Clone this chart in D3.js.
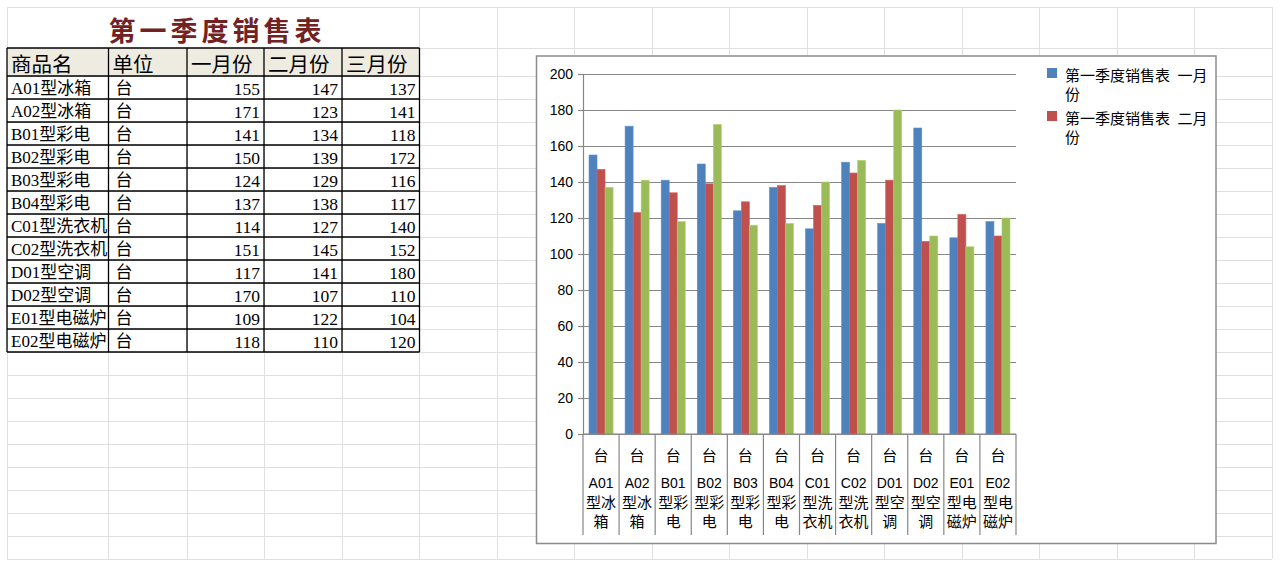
<!DOCTYPE html>
<html><head><meta charset="utf-8">
<script src="https://cdn.jsdelivr.net/npm/d3@7/dist/d3.min.js"></script>
<style>body{margin:0;background:#fff;overflow:hidden}</style>
</head><body>
<script>
// ---------- data ----------
const sheetTitle = "第一季度销售表";
const headers = ["商品名", "单位", "一月份", "二月份", "三月份"];
const products = ["A01型冰箱", "A02型冰箱", "B01型彩电", "B02型彩电", "B03型彩电", "B04型彩电",
  "C01型洗衣机", "C02型洗衣机", "D01型空调", "D02型空调", "E01型电磁炉", "E02型电磁炉"];
const units = ["台", "台", "台", "台", "台", "台", "台", "台", "台", "台", "台", "台"];
const jan = [155, 171, 141, 150, 124, 137, 114, 151, 117, 170, 109, 118];
const feb = [147, 123, 134, 139, 129, 138, 127, 145, 141, 107, 122, 110];
const mar = [137, 141, 118, 172, 116, 117, 140, 152, 180, 110, 104, 120];
const seriesNames = ["第一季度销售表 一月份", "第一季度销售表 二月份", "第一季度销售表 三月份"];
const yTicks = [0, 20, 40, 60, 80, 100, 120, 140, 160, 180, 200];

const seriesValues = [jan, feb, mar];
const seriesColors = ["#4f81bd", "#c0504d", "#9bbb59"];

const W = 1280, H = 567;
const svg = d3.select("body").append("svg").attr("width", W).attr("height", H)
  .style("font-family", "'Noto Sans CJK SC', sans-serif");
svg.append("rect").attr("width", W).attr("height", H).attr("fill", "#fff");

// ---------- spreadsheet grid ----------
const colX = [7, 108.5, 187, 264, 342, 419.5];
while (colX[colX.length - 1] < 1270) colX.push(colX[colX.length - 1] + 77.5);
const rowY = [7, 48];
for (let k = 0; k <= 21; k++) rowY.push(76 + 23 * k);
const grid = svg.append("g").attr("stroke", "#e0e0e0").attr("stroke-width", 1).attr("shape-rendering", "crispEdges");
rowY.forEach(y => grid.append("line").attr("x1", colX[0]).attr("x2", colX[colX.length - 1]).attr("y1", y).attr("y2", y));
colX.forEach((x, ci) => {
  // title row is merged across the first five columns
  const top = (ci > 0 && ci < 5) ? rowY[1] : rowY[0];
  grid.append("line").attr("x1", x).attr("x2", x).attr("y1", top).attr("y2", rowY[rowY.length - 1]);
});

// ---------- title ----------
svg.append("text").text(sheetTitle)
  .attr("x", 217).attr("y", 29).attr("text-anchor", "middle").attr("dominant-baseline", "central")
  .attr("font-size", 27).attr("font-weight", "bold").attr("letter-spacing", 4)
  .attr("fill", "#722222");

// ---------- table ----------
const tCols = colX.slice(0, 6);
const tRows = [48, 76];
for (let i = 0; i < products.length; i++) tRows.push(76 + 23 * (i + 1));
const tbl = svg.append("g");
// header background
tbl.append("rect").attr("x", tCols[0]).attr("y", tRows[0]).attr("width", tCols[5] - tCols[0])
  .attr("height", tRows[1] - tRows[0]).attr("fill", "#eeece1");
headers.forEach((h, i) => {
  tbl.append("text").text(h).attr("x", tCols[i] + 4).attr("y", (tRows[0] + tRows[1]) / 2 + 1)
    .attr("dominant-baseline", "central").attr("font-size", 20.5).attr("fill", "#000");
});
const cellFont = "'Liberation Serif', 'Noto Sans CJK SC', serif";
products.forEach((p, i) => {
  const cy = (tRows[i + 1] + tRows[i + 2]) / 2 + 1;
  tbl.append("text").text(p).attr("x", tCols[0] + 4).attr("y", cy).attr("dominant-baseline", "central")
    .attr("font-size", 17).attr("font-family", cellFont);
  tbl.append("text").text(units[i]).attr("x", tCols[1] + 7).attr("y", cy).attr("dominant-baseline", "central")
    .attr("font-size", 17).attr("font-family", cellFont);
  seriesValues.forEach((vals, s) => {
    tbl.append("text").text(vals[i]).attr("x", tCols[s + 3] - 4).attr("y", cy)
      .attr("text-anchor", "end").attr("dominant-baseline", "central")
      .attr("font-size", 17.5).attr("font-family", cellFont);
  });
});
const border = tbl.append("g").attr("stroke", "#000").attr("stroke-width", 1.3);
tRows.forEach(y => border.append("line").attr("x1", tCols[0]).attr("x2", tCols[5]).attr("y1", y).attr("y2", y));
tCols.forEach(x => border.append("line").attr("x1", x).attr("x2", x).attr("y1", tRows[0]).attr("y2", tRows[tRows.length - 1]));

// ---------- chart ----------
const box = { x: 536.5, y: 56, w: 679.5, h: 487.5 };
svg.append("rect").attr("x", box.x).attr("y", box.y).attr("width", box.w).attr("height", box.h)
  .attr("fill", "#fff").attr("stroke", "#8c8c8c").attr("stroke-width", 1.5);

const plot = { left: 583, right: 1016, top: 74, bottom: 434 };
const x = d3.scaleBand().domain(d3.range(products.length)).range([plot.left, plot.right]).padding(0);
const xs = d3.scaleBand().domain(d3.range(3)).range([0, x.bandwidth()]).paddingInner(0).paddingOuter(0.75);
const y = d3.scaleLinear().domain([0, 200]).range([plot.bottom, plot.top]);

const axisColor = "#868686";
// gridlines
const gGrid = svg.append("g").attr("transform", `translate(${plot.left},0)`)
  .call(d3.axisLeft(y).tickValues(yTicks).tickSize(-(plot.right - plot.left)).tickFormat(""));
gGrid.select(".domain").remove();
gGrid.selectAll(".tick line").attr("stroke", axisColor).attr("stroke-width", 1.2);

// bars
const barG = svg.append("g");
seriesValues.forEach((vals, s) => {
  barG.selectAll(null).data(vals).join("rect")
    .attr("x", (d, i) => x(i) + xs(s))
    .attr("y", d => y(d))
    .attr("width", xs.bandwidth())
    .attr("height", d => y(0) - y(d))
    .attr("fill", seriesColors[s])
    .attr("stroke", d3.color(seriesColors[s]).brighter(0.35))
    .attr("stroke-width", 0.6);
});

// y axis
const gY = svg.append("g").attr("transform", `translate(${plot.left},0)`)
  .call(d3.axisLeft(y).tickValues(yTicks).tickSize(5).tickSizeOuter(0).tickPadding(5));
gY.select(".domain").attr("stroke", axisColor).attr("stroke-width", 1.2);
gY.selectAll(".tick line").attr("stroke", axisColor).attr("stroke-width", 1.2);
gY.selectAll(".tick text").attr("font-size", 14).attr("fill", "#000")
  .attr("font-family", "'Liberation Sans', Arial, sans-serif");

// x axis
const gX = svg.append("g");
gX.append("line").attr("x1", plot.left).attr("x2", plot.right).attr("y1", plot.bottom).attr("y2", plot.bottom)
  .attr("stroke", axisColor).attr("stroke-width", 1.2);
d3.range(products.length + 1).forEach(i => {
  const xx = i < products.length ? x(i) : plot.right;
  gX.append("line").attr("x1", xx).attr("x2", xx).attr("y1", plot.bottom).attr("y2", 535)
    .attr("stroke", axisColor).attr("stroke-width", 1.2);
});
function splitLabel(s) {
  const m = s.match(/^([A-Za-z0-9]+)(.*)$/);
  const lines = [m[1]];
  const rest = Array.from(m[2]);
  for (let k = 0; k < rest.length; k += 2) lines.push(rest.slice(k, k + 2).join(""));
  return lines;
}
products.forEach((p, i) => {
  const cx = x(i) + x.bandwidth() / 2;
  gX.append("text").text(units[i]).attr("x", cx).attr("y", 454).attr("text-anchor", "middle")
    .attr("dominant-baseline", "central").attr("font-size", 15).attr("fill", "#000");
  splitLabel(p).forEach((ln, k) => {
    const isCode = k === 0;
    gX.append("text").text(ln).attr("x", cx).attr("y", 483 + 18.5 * k).attr("text-anchor", "middle")
      .attr("dominant-baseline", "central")
      .attr("font-size", isCode ? 14 : 15)
      .attr("font-family", isCode ? "'Liberation Sans', Arial, sans-serif" : "'Noto Sans CJK SC', sans-serif")
      .attr("fill", "#000");
  });
});

// legend (only the entries that fit in the legend area are shown)
const legend = { x: 1047, y: 64, maxH: 90, entryH: 43, textMax: 152 };
const lg = svg.append("g");
seriesNames.forEach((name, s) => {
  const top = legend.y + s * legend.entryH;
  if (top + legend.entryH > legend.y + legend.maxH) return;
  lg.append("rect").attr("x", legend.x).attr("y", top + 4).attr("width", 10).attr("height", 10)
    .attr("fill", seriesColors[s]);
  const chars = Array.from(name);
  const lines = [];
  let cur = "";
  const probe = lg.append("text").attr("font-size", 15);
  chars.forEach(c => {
    probe.text(cur + c);
    if (probe.node().getComputedTextLength() > legend.textMax && cur) { lines.push(cur); cur = c; }
    else cur += c;
  });
  if (cur) lines.push(cur);
  probe.remove();
  lines.forEach((ln, k) => {
    lg.append("text").text(ln.replace(" ", "\u2002")).attr("x", 1065).attr("y", top + 10 + 19 * k)
      .attr("dominant-baseline", "central").attr("font-size", 15).attr("fill", "#000");
  });
});
</script>
</body></html>
